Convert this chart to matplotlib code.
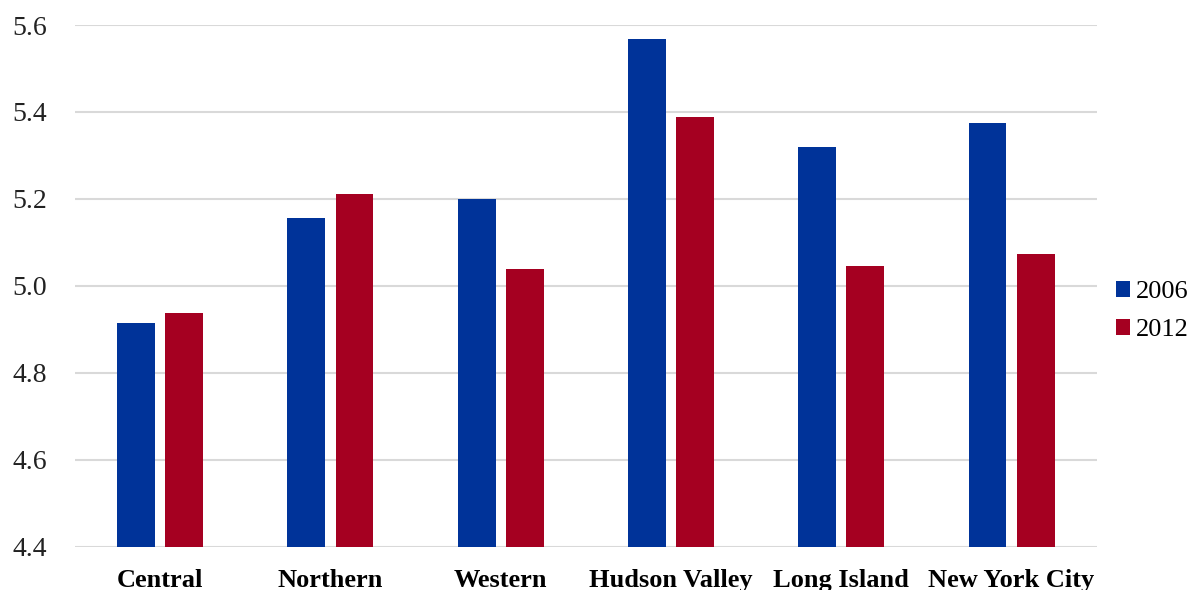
import numpy as np
from matplotlib import pyplot as plt

regions = ["Central", "Northern", "Western", "Hudson Valley", "Long Island", "New York City"]
values_2006 = [4.914, 5.157, 5.200, 5.568, 5.320, 5.374]
values_2012 = [4.938, 5.212, 5.039, 5.389, 5.045, 5.073]
yticks = [4.4, 4.6, 4.8, 5.0, 5.2, 5.4, 5.6]

blue = "#003399"
red = "#A50021"

plt.rcParams["font.family"] = ["Liberation Serif", "DejaVu Serif"]

fig = plt.figure(figsize=(11.92, 5.90), dpi=100)
ax = fig.add_axes([0.063, 0.0737, 0.857, 0.8839])

x = np.arange(len(regions))
width = 0.223
offset = 0.141

ax.bar(x - offset, values_2006, width, color=blue, label="2006", zorder=3)
ax.bar(x + offset, values_2012, width, color=red, label="2012", zorder=3)

ax.set_xlim(-0.5, len(regions) - 0.5)
ax.set_ylim(4.4, 5.6)
ax.set_yticks(yticks)
ax.set_yticklabels([f"{v:.1f}" for v in yticks], fontsize=20)
ax.set_xticks(x)
ax.set_xticklabels(regions, fontsize=19, fontweight="bold")

ax.grid(axis="y", color="#d9d9d9", linewidth=1.5, zorder=0)
ax.tick_params(axis="y", length=0, pad=20, colors="#222222")
ax.tick_params(axis="x", length=0, pad=16, colors="black")
for side in ax.spines.values():
    side.set_visible(False)

fig.legend(loc="center left", bbox_to_anchor=(0.936, 0.473), frameon=False,
           borderpad=0, borderaxespad=0, fontsize=19, handlelength=0.55,
           handleheight=0.55, handletextpad=0.2, labelspacing=0.6)

fig.savefig("out.png", dpi=100)
